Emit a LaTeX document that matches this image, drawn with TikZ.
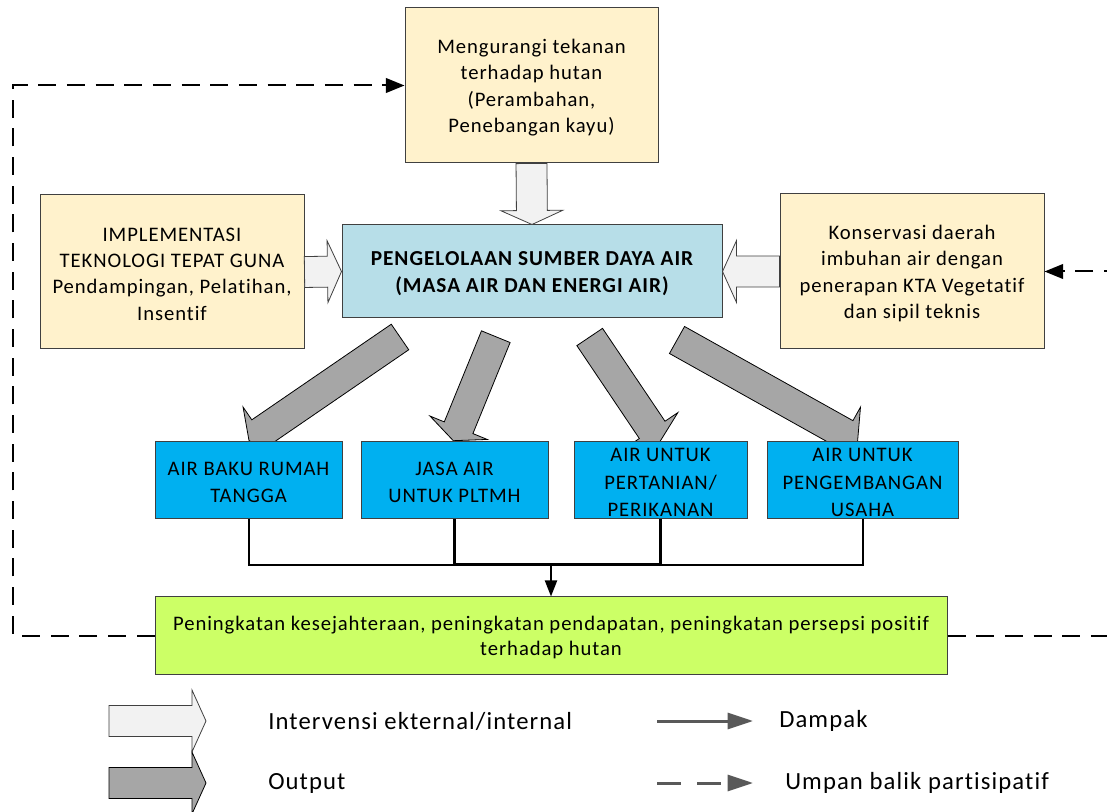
\documentclass[tikz,border=0pt]{standalone}
\usepackage{fontspec}
\setmainfont{Carlito}[LetterSpace=4.5, Ligatures={NoCommon}]
\usetikzlibrary{calc,arrows.meta,fit}

\definecolor{beige}{HTML}{FFF2CC}
\definecolor{mainblue}{HTML}{B7DEE8}
\definecolor{outblue}{HTML}{00B0F0}
\definecolor{limegreen}{HTML}{CCFF66}
\definecolor{lightarrow}{HTML}{F2F2F2}
\definecolor{darkarrow}{HTML}{A6A6A6}
\definecolor{edge}{HTML}{404040}
\definecolor{legendgray}{HTML}{595959}

\tikzset{
  box/.style={draw=edge, line width=0.75pt, inner sep=0pt},
  inbox/.style={box, fill=beige},
  corebox/.style={box, fill=mainblue},
  outbox/.style={box, fill=outblue},
  resultbox/.style={box, fill=limegreen},
  boxtext/.style={inner sep=0pt, align=center, yshift=-1.5pt,
    font=\fontsize{15.5}{19.8}\selectfont},
  coretext/.style={boxtext, font=\fontsize{16}{20}\selectfont\bfseries},
  outtext/.style={boxtext, font=\fontsize{15.5}{20.8}\selectfont},
  resulttext/.style={boxtext, font=\fontsize{15.5}{19}\selectfont},
  intervention/.style={draw=edge, line width=0.6pt, fill=lightarrow},
  outputarrow/.style={draw=black, line width=0.6pt, fill=darkarrow},
  link/.style={draw=black, line width=1.5pt},
  biglink/.style={draw=black, line width=2.25pt},
  feedback/.style={draw=black, line width=1.5pt, dash pattern=on 13.5pt off 8pt,
    -{Triangle[length=14pt,width=11pt]}},
  legendtext/.style={anchor=west, inner sep=0pt, font=\fontsize{18.5}{20}\selectfont},
}

% block arrow from tail #2 to tip #3, drawn with style #1
\newcommand\blockarrow[3]{%
  \coordinate (ba-base) at ($(#3)!10.5pt!(#2)$);
  \path[#1] ($(#2)!11.6pt!90:(#3)$)
    -- ($(ba-base)!11.6pt!90:(#3)$)
    -- ($(ba-base)!23.2pt!90:(#3)$)
    -- (#3)
    -- ($(ba-base)!23.2pt!-90:(#3)$)
    -- ($(ba-base)!11.6pt!-90:(#3)$)
    -- ($(#2)!11.6pt!-90:(#3)$)
    -- cycle;
}

\begin{document}
\begin{tikzpicture}[x=0.75pt, y=-0.75pt]
  \clip (0,0) rectangle (1107,812);
  \fill[white] (0,0) rectangle (1107,812);

  % output arrows lie under the output boxes
  \coordinate (g1t) at (400,337);   \coordinate (g1h) at (249,440.5);
  \coordinate (g2t) at (495.8,336.7); \coordinate (g2h) at (453.3,440.7);
  \coordinate (g3t) at (589.7,337); \coordinate (g3h) at (660,441.5);
  \coordinate (g4t) at (677,340);   \coordinate (g4h) at (857.6,441);
  \blockarrow{outputarrow}{g1t}{g1h}
  \blockarrow{outputarrow}{g2t}{g2h}
  \blockarrow{outputarrow}{g3t}{g3h}
  \blockarrow{outputarrow}{g4t}{g4h}

  % boxes
  \node[inbox, fit={(405,8) (658,163)}] (top) {};
  \node[boxtext] (top-text) at (top.center)
    {Mengurangi tekanan\\terhadap hutan\\(Perambahan,\\Penebangan kayu)};
  \node[inbox, fit={(40,195) (304,349)}] (left) {};
  \node[boxtext] (left-text) at (left.center)
    {IMPLEMENTASI\\TEKNOLOGI TEPAT GUNA\\Pendampingan, Pelatihan,\\Insentif};
  \node[corebox, fit={(342,225) (722,318)}] (core) {};
  \node[coretext] (core-text) at (core.center)
    {PENGELOLAAN SUMBER DAYA AIR\\(MASA AIR DAN ENERGI AIR)};
  \node[inbox, fit={(780,194) (1044,349)}] (right) {};
  \node[boxtext] (right-text) at (right.center)
    {Konservasi daerah\\imbuhan air dengan\\penerapan KTA Vegetatif\\dan sipil teknis};

  \node[outbox, fit={(155,442) (342,519)}] (out1) {};
  \node[outtext] (out1-text) at (out1.center) {AIR BAKU RUMAH\\TANGGA};
  \node[outbox, fit={(361,442) (548,519)}] (out2) {};
  \node[outtext] (out2-text) at (out2.center) {JASA AIR\\UNTUK PLTMH};
  \node[outbox, fit={(574,442) (747,519)}] (out3) {};
  \node[outtext] (out3-text) at (out3.center) {AIR UNTUK\\PERTANIAN/\\PERIKANAN};
  \node[outbox, fit={(767,442) (958,519)}] (out4) {};
  \node[outtext] (out4-text) at (out4.center) {AIR UNTUK\\PENGEMBANGAN\\USAHA};

  \node[resultbox, fit={(155,597) (947,674)}] (result) {};
  \node[resulttext] (result-text) at (result.center)
    {Peningkatan kesejahteraan, peningkatan pendapatan, peningkatan persepsi positif\\terhadap hutan};

  % interventions into the core box
  \blockarrow{intervention}{top.south}{core.north}
  \blockarrow{intervention}{left.east}{core.west}
  \blockarrow{intervention}{right.west}{core.east}

  % impacts
  \coordinate (join) at (551,565);
  \draw[link] (out1.south) |- (join);
  \draw[link] (out4.south) |- (join);
  \draw[biglink] (out2.south) |- (join);
  \draw[biglink] (out3.south) |- (join);
  \draw[line width=1.5pt, -{Triangle[length=12pt,width=9pt]}] (join) -- (result.north);

  % participatory feedback
  \coordinate (fbleft) at (13,635.5);
  \coordinate (fbright) at (1125,635.5);
  \draw[feedback] (result.west) -- (fbleft) |- (top.west);
  \draw[feedback] (result.east) -- (fbright) |- (right.east);

  % legend
  \coordinate (l1t) at (109,721); \coordinate (l1h) at (206,721);
  \coordinate (l2t) at (109,783); \coordinate (l2h) at (206,783);
  \blockarrow{intervention}{l1t}{l1h}
  \blockarrow{outputarrow}{l2t}{l2h}
  \node[legendtext] (t1) at (268,721) {Intervensi ekternal/internal};
  \node[legendtext] (t2) at (268,783) {Output};

  \coordinate (d1a) at (657,721); \coordinate (d1b) at (753,721);
  \coordinate (d2a) at (657,783); \coordinate (d2b) at (753,783);
  \draw[legendgray, line width=2.25pt, -{Triangle[length=19pt,width=12pt]}] (d1a) -- (d1b);
  \draw[legendgray, line width=2.25pt, dash pattern=on 18pt off 12pt,
    -{Triangle[length=19pt,width=12pt]}] (d2a) -- (d2b);
  \node[legendtext] (t3) at (779,721) {Dampak};
  \node[legendtext] (t4) at (785,783) {Umpan balik partisipatif};
\end{tikzpicture}
\end{document}
